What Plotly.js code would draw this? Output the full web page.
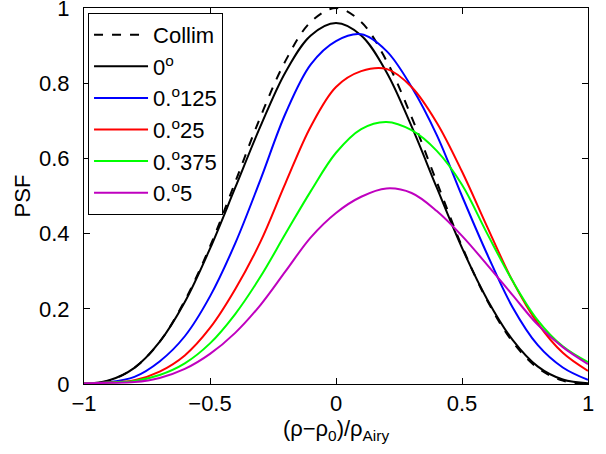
<!DOCTYPE html>
<html>
<head>
<meta charset="utf-8">
<script src="https://cdn.plot.ly/plotly-3.0.1.min.js"></script>
<style>html,body{margin:0;padding:0;background:#fff;}#chart{width:606px;height:454px;}</style>
</head>
<body>
<div id="chart"></div>
<script>
// x positions, (rho - rho0)/rho_Airy
const xVals = [-1, -0.9, -0.8, -0.7, -0.6, -0.5, -0.4, -0.3, -0.2, -0.1, 0, 0.1, 0.2, 0.3, 0.4, 0.5, 0.6, 0.7, 0.8, 0.9, 1];
// Series values
const collim  = [0.0, 0.009, 0.043, 0.112, 0.222, 0.366, 0.537, 0.71, 0.86, 0.963, 1.0, 0.963, 0.86, 0.71, 0.537, 0.366, 0.222, 0.113, 0.043, 0.009, 0.0];
const deg0    = [0.0, 0.01, 0.043, 0.112, 0.218, 0.36, 0.522, 0.685, 0.83, 0.927, 0.96, 0.927, 0.83, 0.685, 0.522, 0.362, 0.225, 0.118, 0.047, 0.012, 0.002];
const deg0125 = [0.002, 0.005, 0.019, 0.06, 0.127, 0.233, 0.374, 0.543, 0.72, 0.85, 0.912, 0.93, 0.886, 0.79, 0.662, 0.50, 0.345, 0.205, 0.104, 0.044, 0.011];
const deg025  = [0.002, 0.004, 0.01, 0.033, 0.076, 0.149, 0.252, 0.378, 0.535, 0.685, 0.79, 0.832, 0.838, 0.79, 0.695, 0.565, 0.418, 0.275, 0.162, 0.083, 0.035];
const deg0375 = [0.002, 0.004, 0.008, 0.024, 0.055, 0.108, 0.186, 0.285, 0.40, 0.513, 0.615, 0.678, 0.697, 0.675, 0.62, 0.53, 0.40, 0.275, 0.17, 0.10, 0.058];
const deg05   = [0.002, 0.003, 0.005, 0.016, 0.04, 0.08, 0.136, 0.21, 0.30, 0.39, 0.455, 0.498, 0.52, 0.508, 0.46, 0.394, 0.317, 0.237, 0.158, 0.098, 0.053];
const seriesNames = ["Collim", "0<sup>o</sup>", "0.<sup>o</sup>125", "0.<sup>o</sup>25", "0.<sup>o</sup>375", "0.<sup>o</sup>5"];
const seriesData = [collim, deg0, deg0125, deg025, deg0375, deg05];
const seriesColors = ["#000000", "#000000", "#0000ff", "#ff0000", "#00ff00", "#bf00bf"];
const seriesDash = ["dash", "solid", "solid", "solid", "solid", "solid"];
const xTicks = [-1, -0.5, 0, 0.5, 1];
const xTickText = ["\u22121", "\u22120.5", "0", "0.5", "1"];
const yTicks = [0, 0.2, 0.4, 0.6, 0.8, 1];
const yTickText = ["0", "0.2", "0.4", "0.6", "0.8", "1"];

const traces = seriesData.map((d, i) => ({
  x: xVals, y: d, type: "scatter", mode: "lines",
  name: seriesNames[i],
  line: {color: seriesColors[i], width: 2, dash: seriesDash[i], shape: "spline", smoothing: 1}
}));

const fontBase = {family: "Liberation Sans, Arial, sans-serif", size: 22, color: "#000"};
const layout = {
  width: 606, height: 454,
  margin: {l: 84, r: 18, t: 8, b: 70},
  paper_bgcolor: "#fff", plot_bgcolor: "#fff",
  font: fontBase,
  showlegend: true,
  legend: {
    x: 0.008, y: 0.987, xanchor: "left", yanchor: "top",
    bordercolor: "#000", borderwidth: 1, bgcolor: "#fff",
    font: fontBase, tracegroupgap: 0,
    itemwidth: 54
  },
  xaxis: {
    range: [-1, 1], tickvals: xTicks, ticktext: xTickText,
    ticks: "inside", ticklen: 6, tickcolor: "#000", tickwidth: 1,
    showline: true, linecolor: "#000", linewidth: 1, mirror: "ticks",
    showgrid: false, zeroline: false, tickfont: fontBase,
    ticklabeloverflow: "allow",
    title: {text: "(\u03c1\u2212\u03c1<sub>0</sub>)/\u03c1<sub>Airy</sub>", font: fontBase, standoff: 4}
  },
  yaxis: {
    range: [0, 1], tickvals: yTicks, ticktext: yTickText,
    ticks: "inside", ticklen: 6, tickcolor: "#000", tickwidth: 1,
    showline: true, linecolor: "#000", linewidth: 1, mirror: "ticks",
    showgrid: false, zeroline: false, tickfont: fontBase,
    ticklabelstandoff: 9, ticklabeloverflow: "allow",
    title: {text: "PSF", font: fontBase, standoff: 2}
  }
};
Plotly.newPlot("chart", traces, layout, {staticPlot: true, displayModeBar: false});
</script>
</body>
</html>
